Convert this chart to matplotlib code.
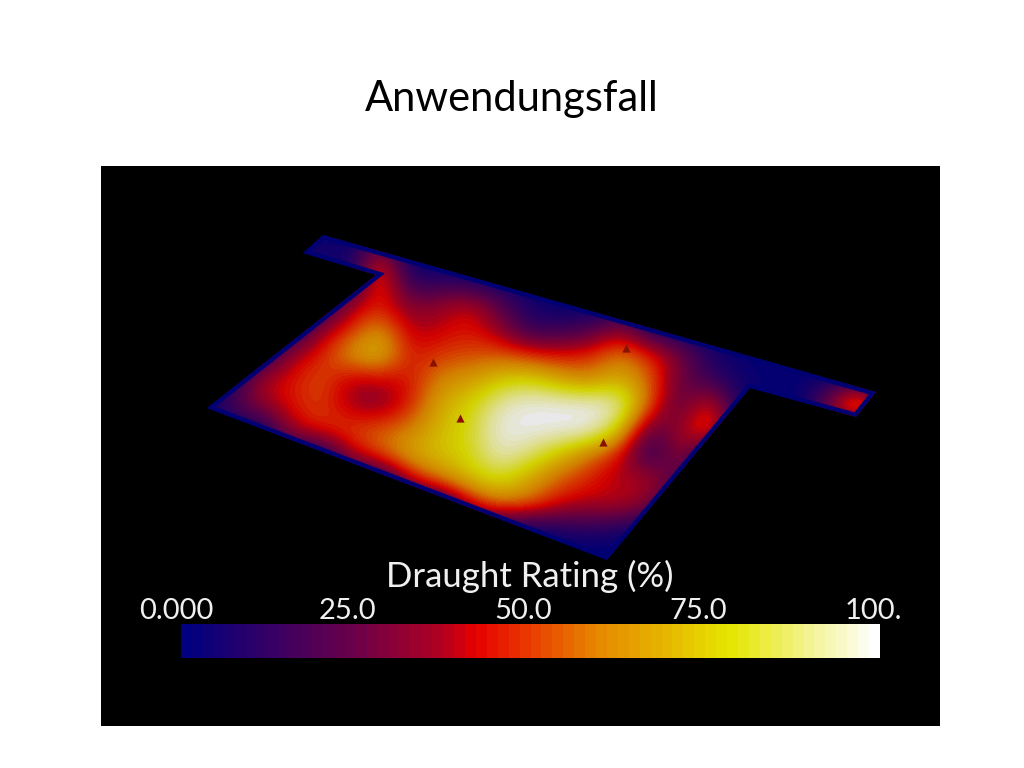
import matplotlib
matplotlib.use('Agg')
import matplotlib.pyplot as plt
import numpy as np
from matplotlib.colors import LinearSegmentedColormap
from matplotlib.patches import Polygon, Rectangle

# colour map
cmap_stops = [0.0, 0.25, 0.37, 0.42, 0.50, 0.60, 0.70, 0.79, 0.90, 1.0]
cmap_colors = ['#000080', '#6e0048', '#b00020', '#e60000', '#ea3c00', '#e68a00',
               '#e6b800', '#e6e600', '#f2f28c', '#ffffff']
tick_labels = ['0.000', '25.0', '50.0', '75.0', '100.']
tick_x = [176, 347, 523, 698, 873]

# screen positions of the sampled values
grid_x = [200, 230, 260, 290, 320, 350, 380, 410, 440, 470, 500, 530,
          560, 590, 620, 650, 680, 710, 740, 770, 800, 830, 860, 890]
grid_y = [230, 255, 280, 305, 330, 355, 380, 405, 430, 455, 480, 505, 530, 555]

# draught rating (%)
rating = [
    [0, 0, 0, 0, 0, 0, 0, 0, 0, 0, 0, 0, 0, 0, 0, 0, 0, 0, 0, 0, 0, 0, 0, 0],
    [0, 0, 0, 0, 12, 3, 42, 1, 0, 0, 0, 0, 0, 0, 0, 0, 0, 0, 0, 0, 0, 0, 0, 0],
    [0, 0, 0, 0, 0, 0, 60, 8, 10, 5, 1, 0, 0, 0, 0, 0, 0, 0, 0, 0, 0, 0, 0, 0],
    [0, 0, 0, 0, 0, 36, 46, 30, 34, 42, 22, 6, 2, 0, 0, 0, 0, 0, 0, 0, 0, 0, 0, 0],
    [0, 0, 0, 0, 34, 48, 66, 38, 40, 46, 34, 12, 14, 18, 36, 8, 0, 0, 0, 0, 0, 0, 0, 0],
    [0, 0, 0, 36, 46, 66, 76, 44, 50, 52, 54, 48, 44, 48, 60, 48, 30, 8, 3, 0, 0, 0, 0, 0],
    [0, 0, 40, 44, 54, 38, 40, 44, 62, 66, 76, 80, 68, 60, 72, 56, 26, 14, 5, 3, 3, 2, 0, 0],
    [0, 20, 34, 44, 52, 36, 30, 46, 70, 78, 94, 100, 100, 100, 97, 55, 18, 50, 5, 0, 0, 36, 85, 0],
    [0, 0, 0, 38, 48, 52, 56, 60, 74, 80, 100, 100, 100, 100, 78, 20, 35, 60, 0, 0, 0, 0, 0, 0],
    [0, 0, 0, 0, 0, 38, 54, 70, 75, 80, 96, 88, 74, 58, 44, 6, 40, 0, 0, 0, 0, 0, 0, 0],
    [0, 0, 0, 0, 0, 0, 0, 40, 60, 74, 82, 68, 54, 46, 36, 42, 18, 0, 0, 0, 0, 0, 0, 0],
    [0, 0, 0, 0, 0, 0, 0, 0, 0, 40, 58, 55, 42, 38, 42, 30, 0, 0, 0, 0, 0, 0, 0, 0],
    [0, 0, 0, 0, 0, 0, 0, 0, 0, 0, 0, 0, 6, 10, 6, 0, 0, 0, 0, 0, 0, 0, 0, 0],
    [0, 0, 0, 0, 0, 0, 0, 0, 0, 0, 0, 0, 0, 0, 0, 0, 0, 0, 0, 0, 0, 0, 0, 0],
]

# outline of the floor and the small dark spots on it
floor_x = [207, 376, 303, 323, 876, 856, 750, 607]
floor_y = [408, 275, 253, 235, 392, 417, 388, 560]
spot_x = [433, 626, 460, 603]
spot_y = [362, 348, 418, 442]

fire = LinearSegmentedColormap.from_list('fire', list(zip(cmap_stops, cmap_colors)), N=64)

fig = plt.figure(figsize=(10.24, 7.68), dpi=100, facecolor='white')
ax = fig.add_axes([0, 0, 1, 1])
ax.set_xlim(0, 1024)
ax.set_ylim(768, 0)
ax.axis('off')

fig.text(0.5, 1 - 99 / 768, 'Anwendungsfall', ha='center', va='center',
         fontsize=30, family='Lato', color='black')
ax.add_patch(Rectangle((101, 166), 839, 560, facecolor='black', edgecolor='none', zorder=1))

# floor field
floor = Polygon(list(zip(floor_x, floor_y)), closed=True, transform=ax.transData,
                facecolor='none', edgecolor='none')
ax.add_patch(floor)
im = ax.imshow(np.array(rating, dtype=float), cmap=fire, vmin=0, vmax=100, alpha=0.92,
               extent=[grid_x[0] - 15, grid_x[-1] + 15, grid_y[-1] + 12.5, grid_y[0] - 12.5],
               interpolation='bicubic', interpolation_stage='data', aspect='auto', zorder=2)
im.set_clip_path(floor)
edge = Polygon(list(zip(floor_x, floor_y)), closed=True, facecolor='none',
               edgecolor='#000072', linewidth=6, zorder=3)
ax.add_patch(edge)
edge.set_clip_path(floor)
ax.scatter(spot_x, spot_y, marker='^', s=35, color='#8a1000', linewidths=0, zorder=4)
ax.set_xlim(0, 1024)
ax.set_ylim(768, 0)

# legend
cax = fig.add_axes([181 / 1024, 1 - 658 / 768, 699 / 1024, 34 / 768])
cbar = fig.colorbar(im, cax=cax, orientation='horizontal')
cbar.solids.set_alpha(1)
cbar.set_ticks([])
cbar.outline.set_visible(False)

ax.text(530, 576, 'Draught Rating (%)', ha='center', va='center', color='#f0f0f0',
        fontsize=25, family='Lato', zorder=5)
for x, label in zip(tick_x, tick_labels):
    ax.text(x, 611, label, ha='center', va='center', color='#f0f0f0',
            fontsize=21, family='Lato', zorder=5)

fig.savefig('out.png', dpi=100)
